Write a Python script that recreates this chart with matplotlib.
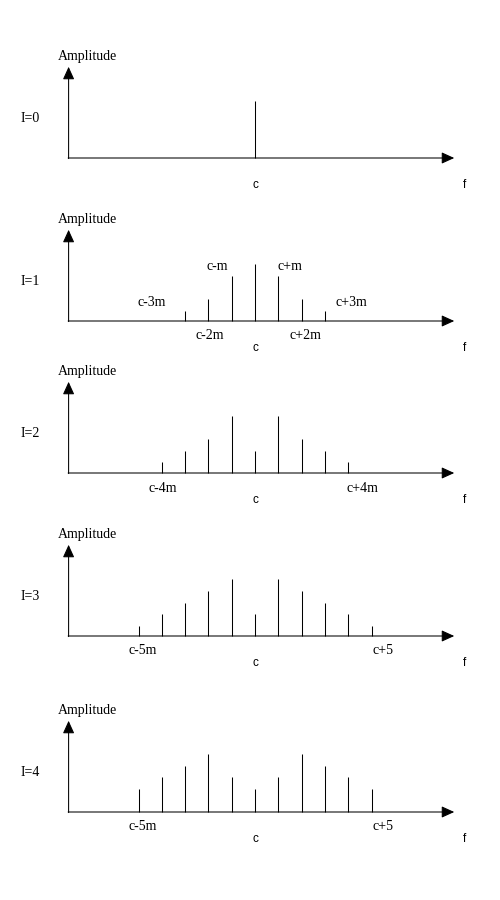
import matplotlib
matplotlib.use('Agg')
import matplotlib.pyplot as plt

plt.rcParams['font.family'] = ['Liberation Serif', 'DejaVu Serif']

# spectra for each modulation index I: (offset in multiples of m, relative amplitude)
index_labels = ['I=0', 'I=1', 'I=2', 'I=3', 'I=4']
offsets = [
    [0],
    [-3, -2, -1, 0, 1, 2, 3],
    [-4, -3, -2, -1, 0, 1, 2, 3, 4],
    [-5, -4, -3, -2, -1, 0, 1, 2, 3, 4, 5],
    [-5, -4, -3, -2, -1, 0, 1, 2, 3, 4, 5],
]
amplitudes = [
    [1.0],
    [0.18, 0.39, 0.79, 1.0, 0.79, 0.39, 0.18],
    [0.19, 0.39, 0.60, 1.0, 0.39, 1.0, 0.60, 0.39, 0.19],
    [0.18, 0.39, 0.58, 0.79, 1.0, 0.39, 1.0, 0.79, 0.58, 0.39, 0.18],
    [0.40, 0.61, 0.81, 1.02, 0.61, 0.40, 0.61, 1.02, 0.81, 0.61, 0.40],
]
# side band labels: (text, x in m, y)
band_labels = [
    [],
    [('c-m', -1.6, 0.95), ('c+m', 1.5, 0.95), ('c-3m', -4.45, 0.33),
     ('c+3m', 4.15, 0.33), ('c-2m', -1.95, -0.26), ('c+2m', 2.15, -0.26)],
    [('c-4m', -3.95, -0.28), ('c+4m', 4.6, -0.28)],
    [('c-5m', -4.8, -0.26), ('c+5', 5.5, -0.26)],
    [('c-5m', -4.8, -0.26), ('c+5', 5.5, -0.26)],
]
baselines = [158, 321, 473, 636, 812]   # pixel rows of the f axis

W, H = 500, 900
px_x = 23.3   # pixels per m
px_y = 57.0   # pixels per unit amplitude
centre = 255

fig = plt.figure(figsize=(5, 9), dpi=100)
fs = 10
lw = 0.75

for k in range(5):
    b = baselines[k]
    bottom = (H - (b + 45)) / H
    ax = fig.add_axes([0, bottom, 1, 165 / H])
    ax.set_xlim(-centre / px_x, (W - centre) / px_x)
    ax.set_ylim(-45 / px_y, 120 / px_y)
    ax.axis('off')
    ax.patch.set_alpha(0)

    # axes with filled arrow heads
    arr = dict(arrowstyle='-|>,head_length=0.55,head_width=0.25', lw=lw,
               color='black', mutation_scale=14, shrinkA=0, shrinkB=0)
    ax.annotate('', xy=(8.55, 0), xytext=(-8.02, 0), arrowprops=arr)
    ax.annotate('', xy=(-8.0, 1.6), xytext=(-8.0, -0.01), arrowprops=arr)

    ax.vlines(offsets[k], 0, amplitudes[k], color='black', lw=lw)

    ax.text(-7.2, 1.78, 'Amplitude', fontsize=fs, ha='center', va='center')
    ax.text(-9.65, 0.7, index_labels[k], fontsize=fs, ha='center', va='center')
    ax.text(0, -0.48, 'c', fontsize=8.5, ha='center', va='center',
            family=['Liberation Sans', 'DejaVu Sans'])
    ax.text(9.0, -0.48, 'f', fontsize=8.5, ha='center', va='center',
            family=['Liberation Sans', 'DejaVu Sans'])
    for txt, x, y in band_labels[k]:
        ax.text(x, y, txt, fontsize=fs, ha='center', va='center')

plt.savefig('out.png', dpi=100)
